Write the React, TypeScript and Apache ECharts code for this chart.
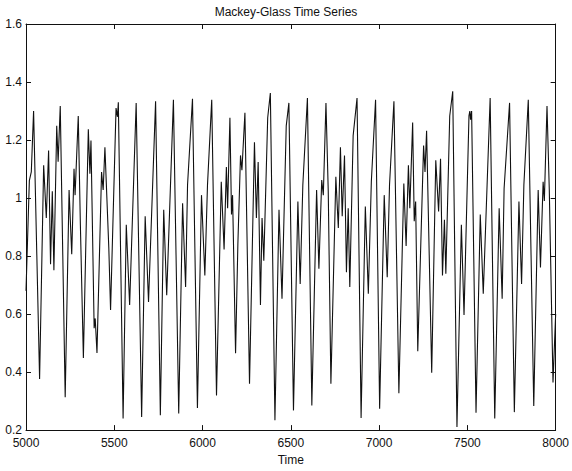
import React, { useEffect, useRef } from "react";
import * as echarts from "echarts";

const times: number[] = [
  5000, 5019, 5030, 5043, 5077, 5100, 5115, 5128, 5139, 5149, 5158, 5174, 5182, 5194,
  5222, 5244, 5259, 5272, 5278, 5296, 5308, 5325, 5353, 5362, 5368, 5386, 5392, 5402,
  5428, 5437, 5447, 5469, 5479, 5510, 5518, 5523, 5550, 5568, 5587, 5624, 5655, 5675,
  5694, 5734, 5761, 5780, 5797, 5835, 5865, 5887, 5904, 5915, 5943, 5971, 5994, 6013,
  6028, 6052, 6079, 6106, 6122, 6135, 6142, 6155, 6164, 6170, 6187, 6200, 6215, 6223,
  6240, 6266, 6294, 6305, 6315, 6328, 6337, 6347, 6369, 6384, 6410, 6433, 6450, 6474,
  6489, 6515, 6540, 6553, 6568, 6594, 6619, 6646, 6659, 6675, 6684, 6699, 6712, 6727,
  6755, 6769, 6781, 6791, 6804, 6815, 6825, 6834, 6853, 6875, 6898, 6922, 6939, 6956,
  6980, 7003, 7029, 7046, 7059, 7084, 7112, 7140, 7153, 7166, 7174, 7190, 7199, 7207,
  7219, 7252, 7260, 7269, 7298, 7321, 7337, 7348, 7359, 7370, 7378, 7400, 7417, 7441,
  7466, 7481, 7509, 7514, 7518, 7524, 7549, 7573, 7590, 7629, 7655, 7680, 7697, 7708,
  7739, 7766, 7792, 7807, 7820, 7845, 7876, 7901, 7914, 7929, 7936, 7951, 7964, 7985,
  8000,
];

const values: number[] = [
  0.68, 1.06, 1.09, 1.30, 0.376, 1.113, 0.931, 1.164, 0.772, 1.023, 0.751, 1.249, 1.125, 1.317,
  0.313, 1.028, 0.806, 1.101, 1.01, 1.283, 0.908, 0.449, 1.237, 1.084, 1.198, 0.551, 0.585, 0.466,
  1.09, 1.028, 1.175, 0.829, 0.614, 1.31, 1.28, 1.33, 0.24, 0.908, 0.631, 1.328, 0.245, 0.937,
  0.642, 1.334, 0.251, 0.96, 0.665, 1.339, 0.257, 0.982, 0.693, 1.045, 1.342, 0.276, 1.01, 0.733,
  1.045, 1.339, 0.319, 1.056, 0.823, 1.107, 0.965, 1.277, 0.943, 1.01, 0.465, 0.84, 1.147, 1.096,
  1.294, 0.36, 1.192, 0.931, 1.124, 0.631, 0.931, 0.784, 1.277, 1.362, 0.234, 0.96, 0.653, 1.249,
  1.328, 0.268, 0.988, 0.704, 1.045, 1.345, 0.285, 1.028, 0.756, 1.062, 1.01, 1.328, 1.022, 0.36,
  1.073, 0.897, 1.175, 0.937, 1.147, 0.744, 0.965, 0.693, 1.215, 1.345, 0.242, 0.971, 0.67, 1.056,
  1.339, 0.274, 1.01, 0.727, 1.045, 1.334, 0.327, 1.05, 0.835, 1.113, 0.965, 1.26, 0.92, 0.988,
  0.472, 1.181, 1.09, 1.232, 0.398, 1.13, 0.954, 1.135, 0.733, 0.925, 0.739, 1.283, 1.368, 0.211,
  0.908, 0.597, 1.283, 1.30, 1.27, 1.30, 0.26, 0.943, 0.67, 1.345, 0.24, 0.965, 0.653, 1.033,
  1.328, 0.262, 0.988, 0.704, 1.045, 1.339, 0.283, 1.028, 0.761, 1.056, 0.99, 1.317, 1.028, 0.364,
  0.6,
];

const xTicks = { min: 5000, max: 8000, interval: 500 };
const yTicks = { min: 0.2, max: 1.6, interval: 0.2 };

const title = "Mackey-Glass Time Series";
const xName = "Time";

export default function App() {
  const ref = useRef<HTMLDivElement>(null);
  useEffect(() => {
    if (!ref.current) return;
    const chart = echarts.init(ref.current, undefined, { renderer: "svg" });
    const font = "'Liberation Sans', Arial, Helvetica, sans-serif";
    const axisCommon = {
      axisLine: { show: true, lineStyle: { color: "#111", width: 1 } },
      axisTick: { show: true, inside: true, length: 5, lineStyle: { color: "#111", width: 1 } },
      splitLine: { show: false },
    };
    const data = times.map((t, i) => [t, values[i]]);
    chart.setOption({
      animation: false,
      backgroundColor: "#fff",
      title: {
        text: title,
        left: "center",
        top: 1,
        textStyle: { fontFamily: font, fontSize: 12, fontWeight: "normal", color: "#111" },
      },
      grid: { left: 26, right: 12, top: 24, bottom: 36 },
      xAxis: [
        {
          type: "value",
          min: xTicks.min,
          max: xTicks.max,
          interval: xTicks.interval,
          position: "bottom",
          name: xName,
          nameLocation: "middle",
          nameGap: 21,
          nameTextStyle: { fontFamily: font, fontSize: 12, color: "#111" },
          axisLabel: {
            fontFamily: font,
            fontSize: 12,
            color: "#111",
            margin: 7,
            lineHeight: 12,
            formatter: (v: number) => String(v),
          },
          ...axisCommon,
        },
        {
          type: "value",
          min: xTicks.min,
          max: xTicks.max,
          interval: xTicks.interval,
          position: "top",
          axisLabel: { show: false },
          ...axisCommon,
        },
      ],
      yAxis: [
        {
          type: "value",
          min: yTicks.min,
          max: yTicks.max,
          interval: yTicks.interval,
          position: "left",
          axisLabel: {
            fontFamily: font,
            fontSize: 12,
            color: "#111",
            margin: 4,
            lineHeight: 12,
            formatter: (v: number) => String(Math.round(v * 10) / 10),
          },
          ...axisCommon,
        },
        {
          type: "value",
          min: yTicks.min,
          max: yTicks.max,
          interval: yTicks.interval,
          position: "right",
          axisLabel: { show: false },
          ...axisCommon,
        },
      ],
      series: [
        {
          type: "line",
          data,
          showSymbol: false,
          symbol: "none",
          lineStyle: { color: "#111", width: 1.1 },
          xAxisIndex: 0,
          yAxisIndex: 0,
        },
      ],
    });
    return () => chart.dispose();
  }, []);
  return (
    <div
      ref={ref}
      style={{ position: "fixed", left: 0, top: 0, width: 572, height: 471, background: "#fff" }}
    />
  );
}
